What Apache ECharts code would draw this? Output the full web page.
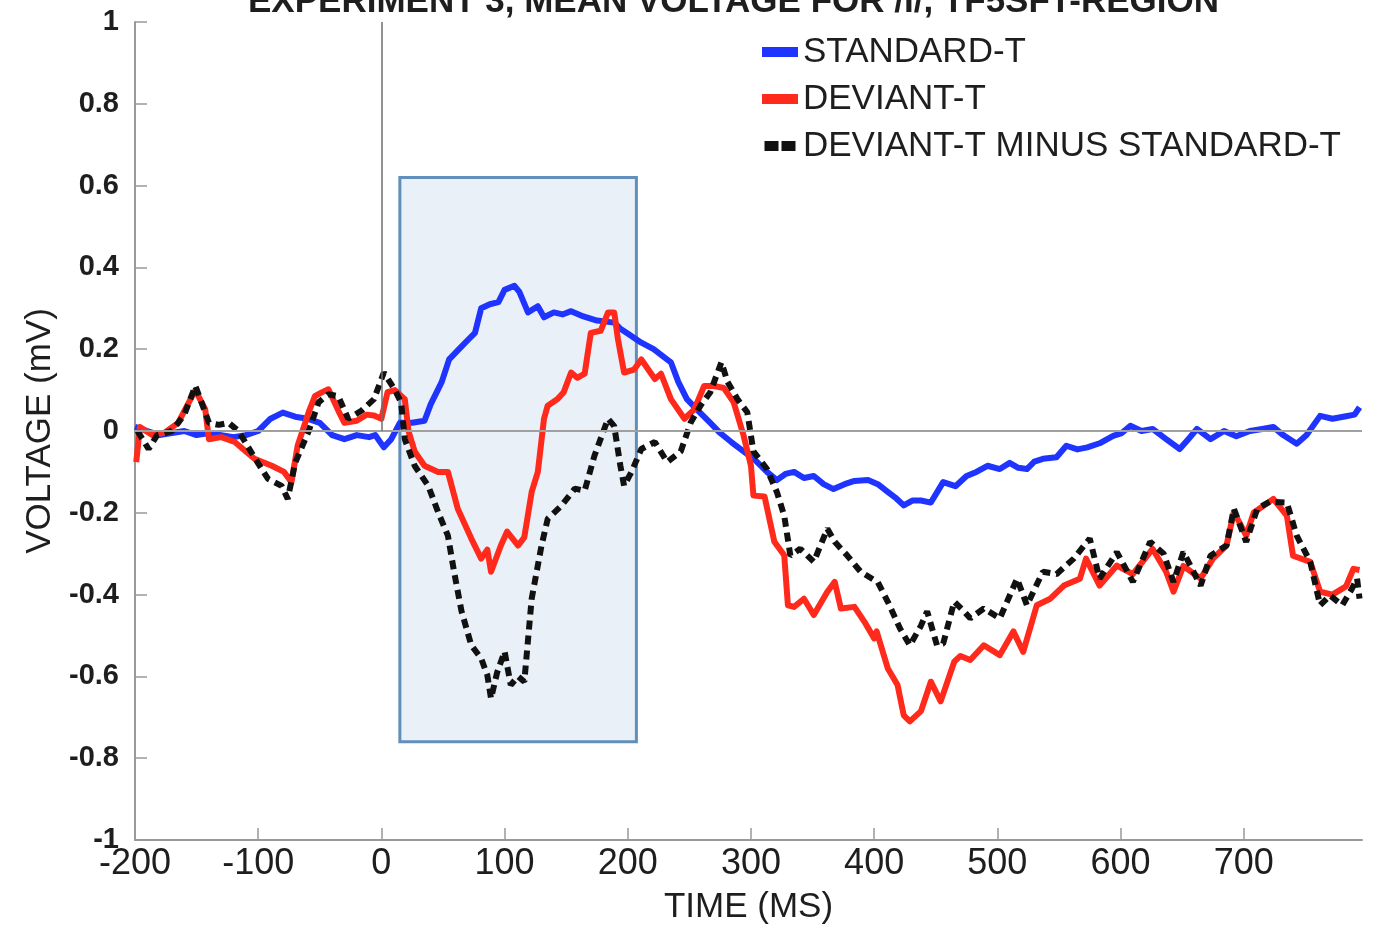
<!DOCTYPE html>
<html>
<head>
<meta charset="utf-8">
<script src="https://cdn.jsdelivr.net/npm/echarts@6/dist/echarts.min.js"></script>
<style>
  html, body { margin: 0; padding: 0; background: #ffffff; }
  #chart { width: 1379px; height: 930px; }
</style>
</head>
<body>
<div id="chart"></div>
<script>
// Mean voltage traces, time in ms, voltage in mV
const seriesNames = ['STANDARD-T', 'DEVIANT-T', 'DEVIANT-T MINUS STANDARD-T'];
const timeTicks = [-200, -100, 0, 100, 200, 300, 400, 500, 600, 700];

const standardTime = [-200, -190, -180, -170, -160, -150, -140, -130, -120, -110, -100, -90, -80, -70, -60, -50, -40, -30, -20, -10, -5, 2, 8, 15, 25, 35, 40, 49, 55, 63, 71, 76, 81, 88, 95, 100, 108, 112, 119, 127, 132, 140, 147, 154, 164, 175, 189, 194, 199, 205, 211, 221, 235, 241, 248, 257, 267, 275, 284, 294, 303, 313, 321, 328, 335, 343, 351, 359, 367, 376, 384, 395, 403, 411, 418, 424, 431, 438, 446, 451, 456, 466, 475, 483, 492, 502, 510, 517, 524, 530, 537, 548, 556, 565, 573, 583, 594, 601, 608, 617, 626, 637, 648, 655, 662, 673, 684, 694, 705, 715, 724, 732, 743, 751, 762, 772, 783, 790, 794];
const standardVolt = [0.01, 0.0, -0.01, -0.005, 0.0, -0.01, -0.005, -0.01, -0.015, -0.01, 0.0, 0.03, 0.045, 0.035, 0.03, 0.02, -0.01, -0.02, -0.01, -0.015, -0.01, -0.04, -0.02, 0.02, 0.02, 0.025, 0.065, 0.12, 0.175, 0.2, 0.225, 0.24, 0.3, 0.31, 0.315, 0.345, 0.355, 0.34, 0.29, 0.305, 0.278, 0.29, 0.285, 0.293, 0.28, 0.27, 0.265, 0.25, 0.24, 0.228, 0.216, 0.2, 0.168, 0.12, 0.078, 0.05, 0.02, -0.005, -0.027, -0.05, -0.07, -0.1, -0.12, -0.105, -0.1, -0.115, -0.11, -0.13, -0.142, -0.13, -0.122, -0.12, -0.13, -0.149, -0.165, -0.182, -0.17, -0.17, -0.175, -0.15, -0.125, -0.135, -0.11, -0.1, -0.085, -0.093, -0.078, -0.09, -0.093, -0.075, -0.068, -0.064, -0.036, -0.045, -0.04, -0.03, -0.012, -0.005, 0.013, 0.0, 0.005, -0.02, -0.044, -0.02, 0.005, -0.02, 0.0, -0.013, 0.0, 0.005, 0.01, -0.01, -0.031, -0.01, 0.037, 0.03, 0.036, 0.04, 0.058];

const deviantTime = [-199, -196, -186, -176, -165, -158, -151, -143, -140, -130, -119, -110, -103, -89, -79, -73, -68, -59, -54, -48, -43, -35, -30, -20, -12, -6, 0, 5, 11, 19, 22, 27, 35, 46, 54, 62, 73, 81, 86, 89, 97, 102, 111, 116, 122, 127, 132, 135, 143, 148, 154, 159, 165, 170, 178, 184, 189, 192, 197, 205, 211, 222, 227, 235, 246, 254, 262, 270, 278, 286, 294, 300, 302, 311, 319, 327, 330, 335, 343, 351, 362, 368, 373, 384, 392, 400, 402, 411, 419, 424, 429, 438, 446, 454, 465, 470, 478, 489, 502, 513, 521, 532, 543, 554, 567, 572, 583, 597, 610, 626, 637, 643, 651, 665, 675, 686, 692, 702, 708, 724, 735, 740, 754, 762, 772, 783, 789, 794];
const deviantVolt = [-0.076, 0.01, -0.01, -0.004, 0.02, 0.06, 0.1, 0.053, -0.02, -0.015, -0.027, -0.05, -0.068, -0.085, -0.1, -0.125, -0.036, 0.046, 0.085, 0.095, 0.102, 0.05, 0.02, 0.025, 0.04, 0.038, 0.03, 0.095, 0.1, 0.078, 0.0, -0.05, -0.085, -0.1, -0.1, -0.19, -0.263, -0.312, -0.29, -0.344, -0.28, -0.246, -0.28, -0.26, -0.149, -0.1, 0.03, 0.062, 0.078, 0.095, 0.143, 0.13, 0.14, 0.24, 0.245, 0.29, 0.29, 0.225, 0.143, 0.15, 0.175, 0.127, 0.14, 0.078, 0.03, 0.053, 0.11, 0.11, 0.105, 0.07, -0.011, -0.085, -0.158, -0.16, -0.271, -0.304, -0.426, -0.43, -0.41, -0.45, -0.393, -0.369, -0.434, -0.43, -0.466, -0.507, -0.49, -0.58, -0.621, -0.695, -0.71, -0.685, -0.613, -0.661, -0.564, -0.55, -0.56, -0.524, -0.548, -0.49, -0.54, -0.426, -0.41, -0.378, -0.361, -0.312, -0.378, -0.329, -0.35, -0.288, -0.344, -0.393, -0.33, -0.361, -0.312, -0.28, -0.198, -0.256, -0.2, -0.166, -0.207, -0.305, -0.32, -0.393, -0.4, -0.38, -0.337, -0.34];

const diffTime = [-198, -189, -182, -170, -160, -151, -146, -140, -132, -124, -116, -103, -92, -81, -76, -70, -59, -51, -43, -35, -27, -16, -6, 2, 11, 16, 19, 27, 38, 46, 54, 59, 65, 73, 81, 86, 89, 94, 100, 105, 111, 116, 122, 130, 135, 146, 157, 165, 173, 184, 189, 194, 197, 203, 211, 222, 232, 243, 251, 259, 267, 276, 281, 289, 297, 302, 313, 321, 327, 332, 340, 351, 362, 368, 378, 389, 403, 411, 421, 429, 438, 443, 451, 456, 465, 473, 478, 489, 502, 516, 524, 537, 548, 562, 575, 583, 597, 610, 624, 635, 643, 651, 665, 673, 686, 692, 702, 711, 721, 735, 743, 754, 762, 770, 780, 787, 792, 794];
const diffVolt = [0.0, -0.044, -0.01, 0.0, 0.04, 0.11, 0.07, 0.02, 0.015, 0.02, 0.0, -0.065, -0.117, -0.134, -0.166, -0.078, 0.0, 0.07, 0.09, 0.085, 0.03, 0.05, 0.078, 0.143, 0.1, 0.07, -0.02, -0.085, -0.134, -0.198, -0.256, -0.344, -0.44, -0.524, -0.556, -0.597, -0.654, -0.59, -0.539, -0.621, -0.6, -0.613, -0.41, -0.28, -0.215, -0.183, -0.141, -0.146, -0.06, 0.03, 0.012, -0.085, -0.134, -0.1, -0.044, -0.027, -0.076, -0.05, 0.02, 0.062, 0.095, 0.168, 0.12, 0.078, 0.046, -0.05, -0.093, -0.149, -0.207, -0.305, -0.288, -0.32, -0.239, -0.271, -0.304, -0.344, -0.37, -0.417, -0.483, -0.524, -0.476, -0.441, -0.524, -0.52, -0.417, -0.441, -0.458, -0.434, -0.458, -0.361, -0.426, -0.344, -0.35, -0.312, -0.263, -0.361, -0.296, -0.369, -0.271, -0.3, -0.369, -0.296, -0.378, -0.305, -0.28, -0.19, -0.271, -0.19, -0.173, -0.175, -0.256, -0.32, -0.426, -0.402, -0.426, -0.39, -0.361, -0.41];

// Analysis window (ms) and its voltage span
const windowTime = [15, 207];
const windowVolt = [-0.76, 0.62];

const zip = (ts, vs) => ts.map((t, i) => [t, vs[i]]);

const FONT = 'Liberation Sans, Arial, Helvetica, sans-serif';
const TEXT = '#1e1e1e';
const AXIS = '#999999';

const chart = echarts.init(document.getElementById('chart'), null, { renderer: 'canvas' });

chart.setOption({
  animation: false,
  backgroundColor: '#ffffff',
  textStyle: { fontFamily: FONT },
  title: {
    text: 'EXPERIMENT 3, MEAN VOLTAGE FOR /I/, TF5SFT-REGION',
    left: 248,
    top: -15,
    padding: 0,
    textStyle: { fontFamily: FONT, fontSize: 35, fontWeight: 'bold', color: TEXT, lineHeight: 35 }
  },
  legend: {
    orient: 'vertical',
    left: 762,
    top: 32,
    itemWidth: 36,
    itemHeight: 10,
    itemGap: 7,
    padding: 0,
    selectedMode: false,
    textStyle: { fontFamily: FONT, fontSize: 35, color: TEXT, lineHeight: 40 },
    data: [
      { name: seriesNames[0], icon: 'rect' },
      { name: seriesNames[1], icon: 'rect' },
      { name: seriesNames[2], icon: 'path://M0,0h14v10h-14zM17,0h14v10h-14z' }
    ]
  },
  grid: { left: 135, right: 17, top: 22, bottom: 88, containLabel: false },
  xAxis: {
    type: 'value',
    min: -200,
    max: 796,
    interval: 100,
    name: 'TIME (MS)',
    nameLocation: 'middle',
    nameGap: 50,
    nameTextStyle: { fontFamily: FONT, fontSize: 35, color: TEXT, lineHeight: 35 },
    axisLine: { show: true, onZero: false, lineStyle: { color: AXIS, width: 2 } },
    axisTick: { show: true, inside: true, length: 12, customValues: timeTicks, lineStyle: { color: AXIS, width: 1.5 } },
    axisLabel: { customValues: timeTicks, margin: 6, fontFamily: FONT, fontSize: 36, color: TEXT },
    splitLine: { show: false }
  },
  yAxis: {
    type: 'value',
    min: -1,
    max: 1,
    interval: 0.2,
    name: 'VOLTAGE (mV)',
    nameLocation: 'middle',
    nameGap: 75,
    nameRotate: 90,
    nameTextStyle: { fontFamily: FONT, fontSize: 35, color: TEXT, lineHeight: 35 },
    axisLine: { show: true, onZero: false, lineStyle: { color: AXIS, width: 2 } },
    axisTick: { show: true, inside: true, length: 12, lineStyle: { color: AXIS, width: 1.5 } },
    axisLabel: { margin: 16, fontFamily: FONT, fontSize: 29, fontWeight: 'bold', color: TEXT },
    splitLine: { show: false }
  },
  series: [
    {
      // reference lines: zero level and stimulus onset
      type: 'line',
      data: [],
      z: 1,
      silent: true,
      markLine: {
        silent: true,
        symbol: 'none',
        label: { show: false },
        data: [
          [{ coord: [-200, 0], lineStyle: { color: '#a0a0a0', width: 2, type: 'solid' } }, { coord: [796, 0] }],
          [{ coord: [0, 0], lineStyle: { color: '#6e6e6e', width: 1.5, type: 'solid' } }, { coord: [0, 1] }]
        ]
      }
    },
    {
      name: seriesNames[0],
      type: 'line',
      data: zip(standardTime, standardVolt),
      showSymbol: false,
      z: 2,
      color: '#1f35ff',
      lineStyle: { color: '#1f35ff', width: 6, join: 'round' }
    },
    {
      name: seriesNames[1],
      type: 'line',
      data: zip(deviantTime, deviantVolt),
      showSymbol: false,
      z: 2,
      color: '#ff2a1c',
      lineStyle: { color: '#ff2a1c', width: 6, join: 'round' }
    },
    {
      name: seriesNames[2],
      type: 'line',
      data: zip(diffTime, diffVolt),
      showSymbol: false,
      z: 3,
      color: '#111111',
      lineStyle: { color: '#111111', width: 6, type: [9, 6], cap: 'butt' }
    },
    {
      // shaded analysis window
      type: 'line',
      data: [],
      z: 4,
      silent: true,
      markArea: {
        silent: true,
        itemStyle: { color: 'rgba(91,140,192,0.13)', borderColor: '#5f8fba', borderWidth: 3 },
        data: [[{ coord: [windowTime[0], windowVolt[1]] }, { coord: [windowTime[1], windowVolt[0]] }]]
      }
    }
  ]
});
</script>
</body>
</html>
